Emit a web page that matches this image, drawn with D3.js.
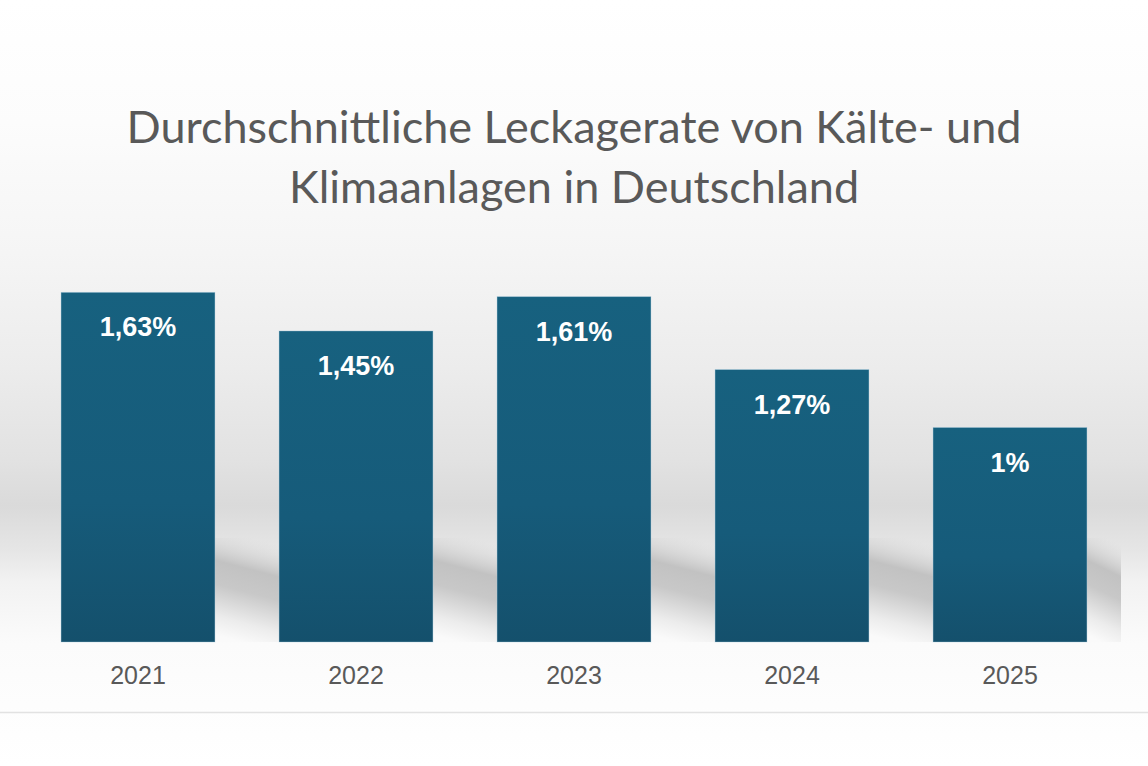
<!DOCTYPE html>
<html>
<head>
<meta charset="utf-8">
<script src="https://cdn.jsdelivr.net/npm/d3@7"></script>
<style>
    html, body { margin: 0; padding: 0; background: #fff; }
    svg { display: block; }
</style>
</head>
<body>
<svg id="chart"></svg>
<script>
const years = ["2021", "2022", "2023", "2024", "2025"];
const leakRates = [1.63, 1.45, 1.61, 1.27, 1.0];
const valueLabels = ["1,63%", "1,45%", "1,61%", "1,27%", "1%"];
const titleLines = ["Durchschnittliche Leckagerate von Kälte- und", "Klimaanlagen in Deutschland"];

const width = 1148;
const height = 766;
const baseY = 642;
const shadowTop = 538;

const svg = d3.select("#chart")
    .attr("width", width)
    .attr("height", height);

const defs = svg.append("defs");

// backdrop gradient (white -> soft grey -> white)
const bg = defs.append("linearGradient")
    .attr("id", "bg")
    .attr("x1", 0).attr("y1", 0).attr("x2", 0).attr("y2", 1);
[[0, "#ffffff"], [0.16, "#fcfcfc"], [0.33, "#f5f5f5"], [0.48, "#ececec"],
 [0.6, "#e2e2e2"], [0.66, "#dadada"], [0.72, "#e6e6e6"], [0.76, "#f2f2f2"],
 [0.84, "#fbfbfb"], [1, "#ffffff"]]
    .forEach(([o, c]) => bg.append("stop").attr("offset", o).attr("stop-color", c));

const barGrad = defs.append("linearGradient")
    .attr("id", "bar")
    .attr("x1", 0).attr("y1", 0).attr("x2", 0).attr("y2", 1);
barGrad.append("stop").attr("offset", 0).attr("stop-color", "#17617f");
barGrad.append("stop").attr("offset", 0.6).attr("stop-color", "#165b7a");
barGrad.append("stop").attr("offset", 1).attr("stop-color", "#14506c");

// soft floor shadow, darkest near the top, fading out toward bottom left
const shadowGrad = defs.append("linearGradient")
    .attr("id", "shadow")
    .attr("x1", 0.58).attr("y1", 0).attr("x2", 0.42).attr("y2", 1);
[[0, "#dddddd", 0], [0.14, "#d6d6d6", 0.7], [0.3, "#c2c2c2", 1], [0.52, "#c8c8c8", 1],
 [0.82, "#ececec", 1], [1, "#fafafa", 1]]
    .forEach(([o, c, a]) => shadowGrad.append("stop")
        .attr("offset", o)
        .attr("stop-color", c)
        .attr("stop-opacity", a));

svg.append("rect")
    .attr("width", width)
    .attr("height", height)
    .attr("fill", "url(#bg)");

const x = d3.scaleBand()
    .domain(years)
    .range([29, 1119])
    .paddingInner(0.294)
    .paddingOuter(0.147);

const y = d3.scaleLinear()
    .domain([0, 2])
    .range([baseY, 213]);

const data = years.map((year, i) => ({ year, value: leakRates[i], label: valueLabels[i] }));

// floor shadows cast to the right of each bar
svg.append("g")
    .selectAll("rect")
    .data(data)
    .join("rect")
    .attr("x", d => x(d.year) + x.bandwidth())
    .attr("y", shadowTop)
    .attr("width", d => Math.min(x.step() - x.bandwidth(), 1121 - x(d.year) - x.bandwidth()))
    .attr("height", baseY - shadowTop)
    .attr("fill", "url(#shadow)");

// title
svg.append("text")
    .attr("text-anchor", "middle")
    .attr("fill", "#595959")
    .style("font-family", "Lato, 'Noto Sans', sans-serif")
    .style("font-size", "45px")
    .selectAll("tspan")
    .data(titleLines)
    .join("tspan")
    .attr("x", 574)
    .attr("y", (d, i) => 143 + i * 60)
    .text(d => d);

const bars = svg.append("g")
    .selectAll("g")
    .data(data)
    .join("g");

bars.append("rect")
    .attr("x", d => x(d.year))
    .attr("y", d => y(d.value))
    .attr("width", x.bandwidth())
    .attr("height", d => baseY - y(d.value))
    .attr("fill", "url(#bar)")
    .attr("stroke", "#a9cbe0")
    .attr("stroke-opacity", 0.45)
    .attr("stroke-width", 0.8);

bars.append("text")
    .attr("x", d => x(d.year) + x.bandwidth() / 2)
    .attr("y", d => y(d.value) + 44)
    .attr("text-anchor", "middle")
    .attr("fill", "#ffffff")
    .style("font-family", "'Liberation Sans', Arial, sans-serif")
    .style("font-weight", "bold")
    .style("font-size", "27px")
    .text(d => d.label);

// category axis (labels only)
const axis = svg.append("g")
    .attr("transform", `translate(0,${ baseY })`)
    .call(d3.axisBottom(x).tickSize(0).tickPadding(24));
axis.select(".domain").remove();
axis.selectAll("text")
    .attr("fill", "#595959")
    .style("font-family", "'Liberation Sans', Arial, sans-serif")
    .style("font-size", "25px");

// thin rule under the chart
svg.append("line")
    .attr("x1", 0).attr("x2", width)
    .attr("y1", 712.5).attr("y2", 712.5)
    .attr("stroke", "#e2e2e2")
    .attr("stroke-width", 1.5);
</script>
</body>
</html>
